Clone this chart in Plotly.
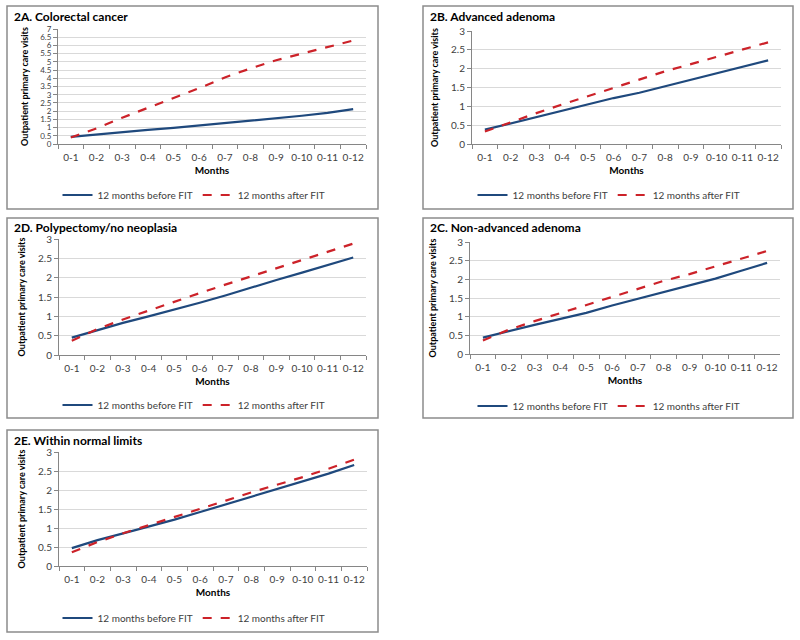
#!/usr/bin/env python3
# Outpatient primary care visits before/after FIT, five panels (2A-2E)
import plotly.graph_objects as pgo

months = ["0-1", "0-2", "0-3", "0-4", "0-5", "0-6", "0-7", "0-8", "0-9", "0-10", "0-11", "0-12"]

# 2A. Colorectal cancer
crc_before = [0.43, 0.58, 0.72, 0.86, 0.98, 1.12, 1.27, 1.43, 1.58, 1.72, 1.90, 2.12]
crc_after = [0.40, 0.95, 1.60, 2.20, 2.80, 3.40, 4.05, 4.60, 5.10, 5.50, 5.90, 6.30]
# 2B. Advanced adenoma
aa_before = [0.38, 0.55, 0.72, 0.88, 1.05, 1.22, 1.36, 1.53, 1.70, 1.88, 2.05, 2.22]
aa_after = [0.33, 0.58, 0.82, 1.05, 1.27, 1.50, 1.72, 1.93, 2.12, 2.32, 2.50, 2.70]
# 2D. Polypectomy/no neoplasia
poly_before = [0.45, 0.65, 0.83, 1.00, 1.17, 1.35, 1.54, 1.75, 1.94, 2.13, 2.32, 2.52]
poly_after = [0.37, 0.67, 0.92, 1.15, 1.38, 1.60, 1.82, 2.03, 2.24, 2.46, 2.66, 2.88]
# 2C. Non-advanced adenoma
naa_before = [0.44, 0.62, 0.78, 0.94, 1.10, 1.30, 1.48, 1.65, 1.83, 2.02, 2.23, 2.44]
naa_after = [0.36, 0.65, 0.88, 1.10, 1.30, 1.52, 1.74, 1.96, 2.14, 2.35, 2.55, 2.76]
# 2E. Within normal limits
wnl_before = [0.47, 0.68, 0.86, 1.03, 1.22, 1.42, 1.62, 1.82, 2.02, 2.22, 2.43, 2.66]
wnl_after = [0.36, 0.63, 0.86, 1.07, 1.28, 1.50, 1.72, 1.94, 2.13, 2.34, 2.56, 2.80]

series_names = ["12 months before FIT", "12 months after FIT"]

W, H = 800, 640
FONT = "Lato"
BLUE = "#1F497D"
RED = "#CC2229"

def px(x): return x / W
def py(y): return 1 - y / H

# title, before, after, ymax, ytick size, plot box (l, t, r, b), frame (l, t, r, b), legend (cx, cy)
panels = [
  ("2A. Colorectal cancer", crc_before, crc_after, 7, 8, (58, 29, 366, 144), (7, 6, 378, 209), (194, 195)),
  ("2B. Advanced adenoma", aa_before, aa_after, 3, 10, (472, 31, 781, 144), (423, 6, 793, 209), (609, 195)),
  ("2D. Polypectomy/no neoplasia", poly_before, poly_after, 3, 10, (59, 239, 366, 355), (7, 218, 378, 418), (194, 405)),
  ("2C. Non-advanced adenoma", naa_before, naa_after, 3, 10, (470, 242, 780, 354), (423, 218, 793, 418), (609, 406)),
  ("2E. Within normal limits", wnl_before, wnl_after, 3, 10, (59, 452, 367, 566), (7, 430, 378, 632), (194, 618)),
]

fig = pgo.Figure()
layout = dict(shapes=[], annotations=[])

for i, (title, before, after, ymax, ysize, box, frame, leg) in enumerate(panels):
  n = "" if i == 0 else str(i + 1)
  lg = "legend" + n
  fig.add_trace(pgo.Scatter(x=months, y=before, name=series_names[0], mode="lines",
    line=dict(color=BLUE, width=2.2), xaxis="x" + n, yaxis="y" + n, legend=lg))
  fig.add_trace(pgo.Scatter(x=months, y=after, name=series_names[1], mode="lines",
    line=dict(color=RED, width=2.2, dash="dash"), xaxis="x" + n, yaxis="y" + n, legend=lg))

  l, t, r, b = box
  layout["xaxis" + n] = dict(
    domain=[px(l), px(r)], anchor="y" + n, type="category", range=[-0.5, 11.5],
    showline=True, linecolor="#868686", linewidth=1, ticks="outside", tickson="boundaries",
    ticklen=4, tickcolor="#868686", showgrid=False, zeroline=False, tickangle=0, automargin=False,
    ticklabelstandoff=4,
    tickfont=dict(family=FONT, size=10, color="#404040"),
    title=dict(text="Months", font=dict(family=FONT, size=10, color="#000000", weight="bold"), standoff=4),
  )
  layout["yaxis" + n] = dict(
    domain=[py(b), py(t)], anchor="x" + n, range=[0, ymax], dtick=0.5, automargin=False,
    showline=True, linecolor="#868686", linewidth=1, ticks="outside", ticklen=4, tickcolor="#868686",
    showgrid=True, gridcolor="#D9D9D9", gridwidth=1, zeroline=False,
    tickfont=dict(family=FONT, size=ysize, color="#404040"),
    title=dict(text="Outpatient primary care visits", font=dict(family=FONT, size=9, color="#000000", weight="bold"), standoff=10),
  )
  layout[lg] = dict(
    orientation="h", x=px(leg[0]), y=py(leg[1]), xanchor="center", yanchor="middle",
    font=dict(family=FONT, size=10, color="#404040"), bgcolor="rgba(0,0,0,0)",
    itemwidth=30, tracegroupgap=0,
  )

  fl, ft, fr, fb = frame
  layout["shapes"].append(dict(type="rect", xref="paper", yref="paper",
    x0=px(fl), x1=px(fr), y0=py(fb), y1=py(ft), line=dict(color="#8C8C8C", width=1.5)))
  layout["annotations"].append(dict(text=title, xref="paper", yref="paper",
    x=px(fl + 5), y=py(ft + 10), xanchor="left", yanchor="middle", showarrow=False,
    font=dict(family=FONT, size=12, color="#000000", weight="bold")))

fig.update_layout(
  width=W, height=H, margin=dict(l=0, r=0, t=0, b=0, autoexpand=False),
  paper_bgcolor="white", plot_bgcolor="white",
  font=dict(family=FONT), showlegend=True,
  **layout
)

fig.write_html("out.html", config=dict(displayModeBar=False),
  post_script="document.body.style.margin='0';document.body.style.overflow='hidden';")
